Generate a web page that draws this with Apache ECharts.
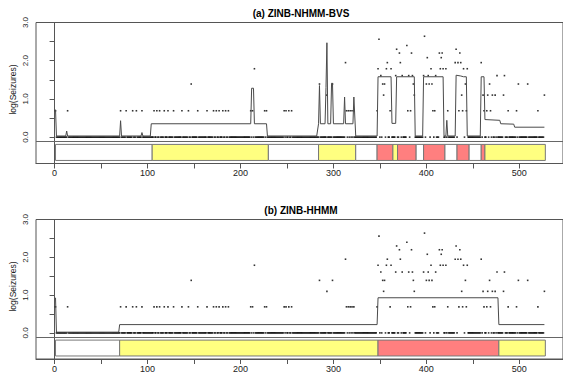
<!DOCTYPE html>
<html><head><meta charset="utf-8">
<script src="https://cdn.jsdelivr.net/npm/echarts@6/dist/echarts.min.js"></script>
<style>html,body{margin:0;padding:0;background:#fff}#chart{width:563px;height:373px}</style>
</head><body><div id="chart"></div>
<script>
// ---------- data ----------
const panelTitles = ['(a) ZINB-NHMM-BVS', '(b) ZINB-HHMM'];
const yAxisTitle = 'log(Seizures)';
const xTickValues = [0, 50, 100, 150, 200, 250, 300, 350, 400, 450, 500];
const xLabelValues = [0, 100, 200, 300, 400, 500];
const yTickValues = [0, 0.5, 1, 1.5, 2, 2.5, 3];
const yLabelValues = [0, 1, 2, 3];

// observed log(seizure) levels; each day is coded by an index (hex digit) into this list
const logLevels = [0, 0.69, 1.10, 1.39, 1.61, 1.79, 1.95, 2.08, 2.20, 2.30, 2.40, 2.48, 2.56, 2.64];
// days 1..527, ten days per string
const dailyLevelCodes = [
  '1000000000','0001000000','0000000000','0000000000','0000000000',
  '0000000000','0000000000','1000001000','0001000100','0001000000',
  '0000001001','0010000100','0100000100','0000001000','0001003000',
  '0001000000','0001000000','1001001000','1001001000','0000000000',
  '0000000000','1010500000','0000010100','0000000000','0000001010',
  '0100100000','0000000000','0000000000','0000300000','0020000030',
  '0000000000','0061010101','0100000000','0000000000','00000015c0',
  '4032305600','1500004900','86040000a1','4018432000','0000004d03',
  '7430531014','0008578500','5010000000','6906186215','0315000000',
  '0000000060','2100120310','2002040000','0024000100','0000001030',
  '0000000030','0000000001','0000002'
];

// fitted mean curves (vertices: day, value)
const fitA_days = [1,2,12,13,14,70,71,72,93,94,95,103,104,211,212,214,215,228,229,282,284,285,286,291,292,293,294,297,298,299,300,311,312,313,321,322,324,347,348,362,363,367,368,387,388,396,397,418,419,421,422,423,431,432,437,440,443,444,458,459,462,463,479,480,494,495,527];
const fitA_vals = [0.72,0.03,0.03,0.16,0.03,0.03,0.43,0.03,0.03,0.12,0.03,0.03,0.35,0.35,1.28,1.28,0.35,0.35,0.03,0.03,0.35,1.35,0.35,0.35,1.3,2.47,0.35,0.35,1.41,1.41,0.35,0.35,1.05,0.35,0.35,1.05,0.03,0.03,1.58,1.58,0.36,0.36,1.58,1.58,0.03,0.03,1.58,1.58,0.03,0.03,0.44,0.03,0.03,1.62,1.6,1.58,1.58,0.03,0.03,1.58,1.58,0.46,0.44,0.35,0.34,0.26,0.26];
const fitB_days = [1,2,69,70,347,348,477,478,527];
const fitB_vals = [0.93,0.02,0.02,0.22,0.22,0.93,0.93,0.22,0.22];

// hidden-state segments (0 = low, 1 = medium, 2 = high)
const stateA_start = [1,105,230,284,324,347,364,369,389,397,420,433,446,459,463];
const stateA_end   = [105,230,284,324,347,364,369,389,397,420,433,446,459,463,528];
const stateA_state = [0,1,0,1,0,2,1,2,0,2,0,2,0,2,1];
const stateB_start = [1,70,348,478];
const stateB_end   = [70,348,478,528];
const stateB_state = [0,1,2,1];

// ---------- styling ----------
const stateColors = ['#FFFFFF', '#FFFF80', '#FF7F7F'];
const FONT = 'Liberation Sans, Arial, Helvetica, sans-serif';
const AXIS_COLOR = '#555';
const STRIP_TOP = -0.19, STRIP_BOTTOM = -0.61, SEP_Y = -0.12;
const gridTops = [22.5, 219.5];
const GRID_H = 141, GRID_LEFT = 36, GRID_W = 530;

const obs = dailyLevelCodes.join('').split('').map((ch, i) => [i + 1, logLevels[parseInt(ch, 16)]]);
const zip = (a, b) => a.map((d, i) => [d, b[i]]);
const fits = [zip(fitA_days, fitA_vals), zip(fitB_days, fitB_vals)];
const strips = [
  stateA_start.map((s, i) => [s, stateA_end[i], stateA_state[i]]),
  stateB_start.map((s, i) => [s, stateB_end[i], stateB_state[i]])
];

function renderStrip(params, api) {
  const p0 = api.coord([api.value(0), STRIP_TOP]);
  const p1 = api.coord([api.value(1), STRIP_BOTTOM]);
  return {
    type: 'rect',
    shape: { x: p0[0], y: p0[1], width: p1[0] - p0[0], height: p1[1] - p0[1] },
    style: { fill: stateColors[api.value(2)], stroke: '#777', lineWidth: 1 }
  };
}

const grids = [], xAxes = [], yAxes = [], series = [], graphics = [];
[0, 1].forEach(i => {
  grids.push({ left: GRID_LEFT, top: gridTops[i], width: GRID_W, height: GRID_H,
    show: true, borderColor: AXIS_COLOR, borderWidth: 1, backgroundColor: 'transparent' });
  xAxes.push({
    gridIndex: i, type: 'value', min: -20, max: 547,
    axisLine: { show: true, onZero: false, lineStyle: { color: AXIS_COLOR, width: 1 } },
    axisTick: { show: true, length: 5, customValues: xTickValues, lineStyle: { color: AXIS_COLOR } },
    axisLabel: { customValues: xLabelValues, margin: 5, fontSize: 9, color: '#222', fontFamily: FONT },
    splitLine: { show: false }
  });
  yAxes.push({
    gridIndex: i, type: 'value', min: -0.69, max: 3.0,
    axisLine: { show: true, lineStyle: { color: AXIS_COLOR, width: 1 } },
    axisTick: { show: true, length: 5, customValues: yTickValues, lineStyle: { color: AXIS_COLOR } },
    axisLabel: { customValues: yLabelValues, rotate: 90, margin: 7, fontSize: 8, color: '#222',
      fontFamily: FONT, formatter: v => v.toFixed(1) },
    splitLine: { show: false }
  });
  series.push({
    type: 'custom', xAxisIndex: i, yAxisIndex: i, renderItem: renderStrip,
    encode: { x: [0, 1] }, data: strips[i], clip: true, silent: true,
    markLine: { silent: true, symbol: 'none', label: { show: false },
      lineStyle: { color: '#666', type: 'solid', width: 1 }, data: [{ yAxis: SEP_Y }] }
  });
  series.push({
    type: 'line', xAxisIndex: i, yAxisIndex: i, data: fits[i], showSymbol: false,
    lineStyle: { color: '#4a4a4a', width: 1 }, clip: true, silent: true
  });
  series.push({
    type: 'scatter', xAxisIndex: i, yAxisIndex: i, data: obs, symbol: 'rect',
    symbolSize: 1.6, itemStyle: { color: '#000' }, silent: true
  });
  graphics.push({ type: 'text', x: 301, y: gridTops[i] - 9.5,
    style: { text: panelTitles[i], font: 'bold 10px ' + FONT, fill: '#000', textAlign: 'center', textVerticalAlign: 'middle' } });
  graphics.push({ type: 'text', x: 12.5, y: gridTops[i] + 67, rotation: Math.PI / 2,
    style: { text: yAxisTitle, font: '8.5px ' + FONT, fill: '#222', textAlign: 'center', textVerticalAlign: 'middle' } });
});

const chart = echarts.init(document.getElementById('chart'), null, { renderer: 'svg' });
chart.setOption({
  animation: false,
  backgroundColor: '#fff',
  grid: grids, xAxis: xAxes, yAxis: yAxes, series: series, graphic: graphics
});
</script>
</body></html>
